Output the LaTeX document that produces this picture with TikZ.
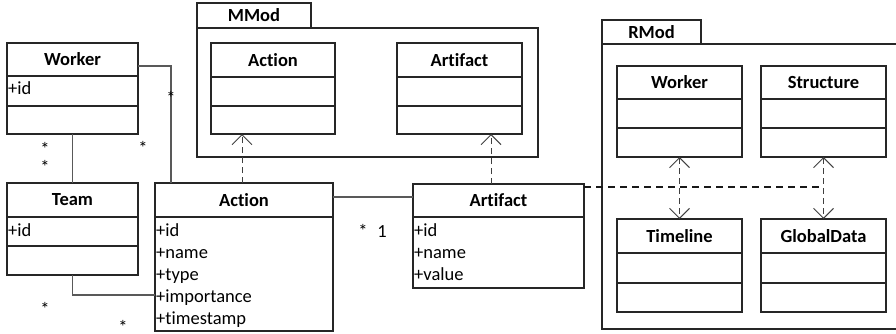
\documentclass[tikz,border=0pt]{standalone}
\usepackage{fontspec}
\setmainfont{Carlito}[Ligatures=CommonOff]
\usetikzlibrary{arrows.meta,calc}

\tikzset{
  classbox/.style={draw=black!85, line width=1.4pt, anchor=north west, inner sep=0pt, outer sep=0pt},
  sepline/.style={draw=black!85, line width=1.4pt},
  classtitle/.style={inner sep=0pt, font=\fontsize{18.5}{20}\selectfont\bfseries},
  attr/.style={anchor=base west, inner sep=0pt, font=\fontsize{18.5}{20}\selectfont},
  mult/.style={anchor=north, inner sep=0pt, font=\fontsize{18.5}{20}\selectfont},
  pkgtab/.style={draw=black!85, line width=1.4pt, anchor=south west, inner sep=0pt, outer sep=0pt, font=\fontsize{18.5}{20}\selectfont\bfseries},
  pkg/.style={draw=black!85, line width=1.4pt},
  assoc/.style={draw=black!65, line width=1.2pt},
  real/.style={draw=black!75, line width=1pt, dash pattern=on 6pt off 4pt},
  barb/.tip={Straight Barb[length=10pt,width=20pt]},
  link/.style={draw=black!90, line width=1.8pt, dash pattern=on 7pt off 5pt},
}

% name, x, y, width, height, header line, second line, title
\newcommand{\umlclass}[8]{%
  \node[classbox, minimum width=#4pt, minimum height=#5pt] (#1) at (#2,#3) {};
  \draw[sepline] ([yshift=-#6pt]#1.north west) -- ([yshift=-#6pt]#1.north east);
  \draw[sepline] ([yshift=-#7pt]#1.north west) -- ([yshift=-#7pt]#1.north east);
  \node[classtitle] at ([yshift=-#6pt/2]#1.north) {#8};
}

\begin{document}
\begin{tikzpicture}[x=1pt, y=-1pt]
  \useasboundingbox (0,0) rectangle (896,333);

  % packages
  \node[pkgtab, minimum width=114pt, minimum height=25pt] (mmod) at (197,28) {MMod};
  \draw[pkg] (mmod.south west) rectangle (538,157);
  \node[pkgtab, minimum width=99pt, minimum height=24pt] (rmod) at (602,44) {RMod};
  \draw[pkg] (rmod.south west) rectangle (900,329);

  % classes
  \umlclass{worker}{7}{43}{131}{91}{33}{63}{Worker}
  \umlclass{team}{7}{183}{131}{92}{34}{63}{Team}
  \umlclass{action}{155}{183}{178}{148}{34}{148}{Action}
  \umlclass{artifact}{413}{184}{171}{104}{33}{104}{Artifact}
  \umlclass{mAction}{211}{43}{124}{91}{34}{63}{Action}
  \umlclass{mArtifact}{397}{43}{125}{91}{34}{63}{Artifact}
  \umlclass{rWorker}{617}{66}{125}{91}{33}{62}{Worker}
  \umlclass{rStructure}{761}{66}{125}{91}{33}{62}{Structure}
  \umlclass{rTimeline}{617}{219}{125}{93}{34}{64}{Timeline}
  \umlclass{rGlobal}{761}{219}{125}{93}{34}{64}{GlobalData}

  % attributes
  \node[attr] at (8,94) {+id};
  \node[attr] at (8,236) {+id};
  \foreach \a [count=\i] in {+id,+name,+type,+importance,+timestamp}
    \node[attr] at (156,214+22*\i) {\a};
  \foreach \a [count=\i] in {+id,+name,+value}
    \node[attr] at (414,214+22*\i) {\a};

  % associations
  \draw[assoc] ([yshift=-23pt]worker.north east) -| ([xshift=16pt]action.north west);
  \draw[assoc] (worker.south) -- (team.north);
  \draw[assoc] (team.south) |- ([yshift=-112pt]action.north west);
  \draw[assoc] ([yshift=-14pt]action.north east) -- ([yshift=-13pt]artifact.north west);

  % multiplicities
  \foreach \p in {(171,91),(143,141),(45,142),(45,160),(45,302),(123,320),(363,224)}
    \node[mult] at \p {*};
  \node[mult] at (382,225) {1};

  % realizations and links
  \draw[real, -barb] ([xshift=87pt]action.north west) -- ([xshift=87pt]action.north west |- mAction.south);
  \draw[real, -barb] ([xshift=78pt]artifact.north west) -- ([xshift=78pt]artifact.north west |- mArtifact.south);
  \draw[real, barb-barb] (rWorker.south) -- (rTimeline.north);
  \draw[real, barb-barb] (rStructure.south) -- (rGlobal.north);
  \draw[link] ([yshift=-3pt]artifact.north east) -- ([yshift=-3pt]artifact.north east -| rStructure.south);
\end{tikzpicture}
\end{document}
